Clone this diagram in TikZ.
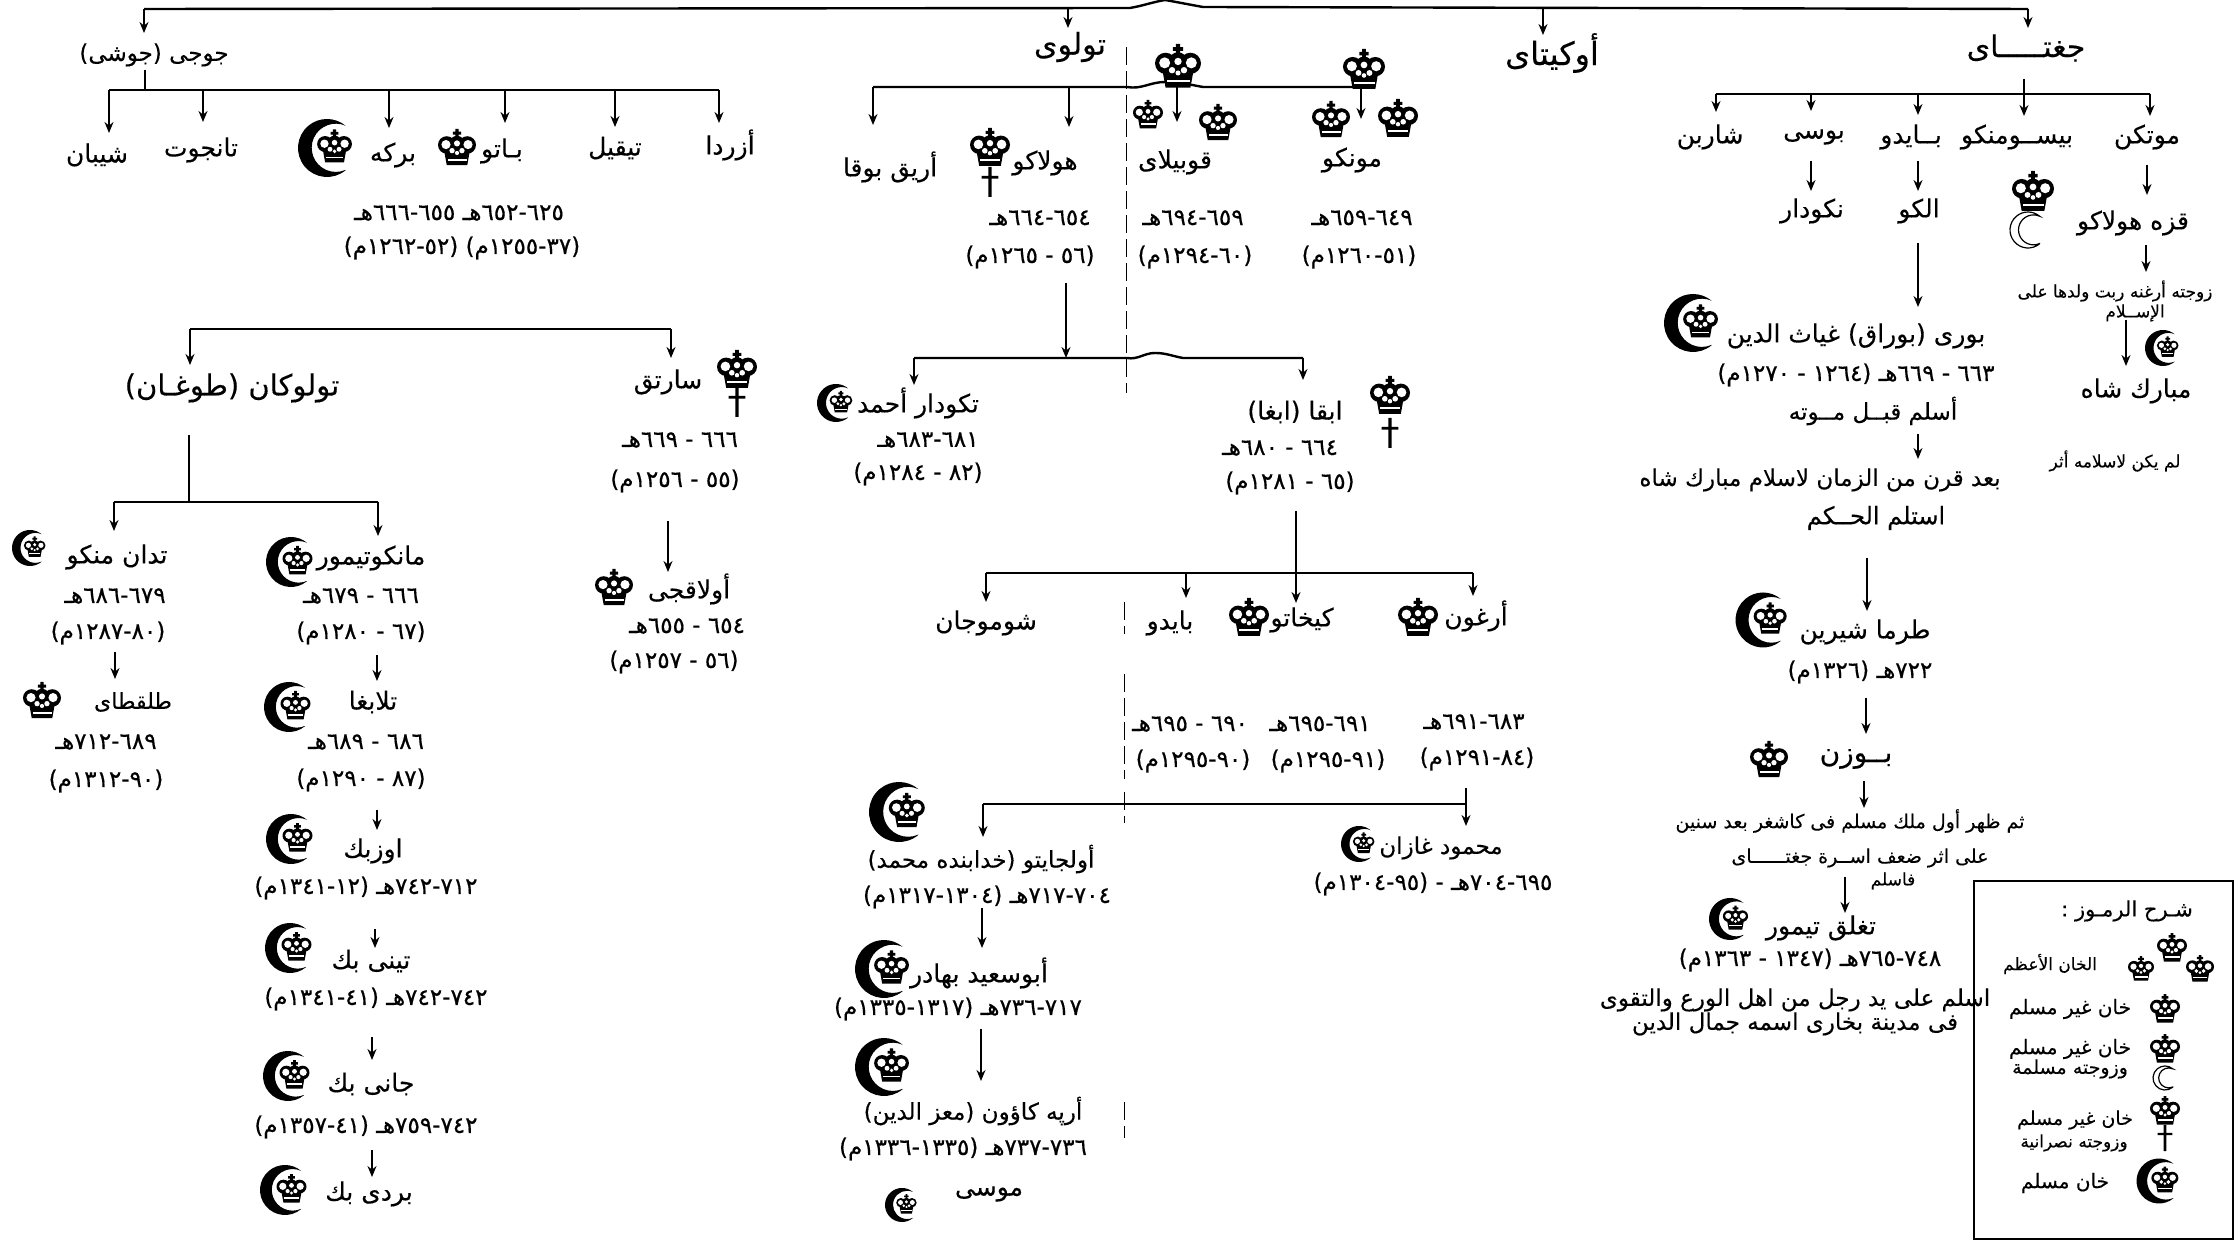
\documentclass[tikz,border=0pt]{standalone}
\usepackage{fontspec}
\usetikzlibrary{arrows.meta,calc}
\TeXXeTstate=1
\newfontfamily\arfont[Script=Arabic,FakeBold=0.25]{DejaVu Sans}
\newfontfamily\ardate[Script=Arabic,FakeBold=0.5]{DejaVu Sans}
\newcommand\Dg[1]{\beginL #1\endL{}}
\newcommand\hD[2]{\Dg{#1}-\Dg{#2}هـ}
\newcommand\mD[2]{(\Dg{#1}-\Dg{#2}م)}
\newcommand\lab[5][]{\node[namelbl,#1] (#2) at (#3,#4) {#5};}
\newcommand\dat[5][]{\node[datelbl,#1] (#2) at (#3,#4) {#5};}
\newcommand\sml[5][]{\node[smalllbl,#1] (#2) at (#3,#4) {#5};}
\newcommand\arw[4]{\coordinate (#1-a) at (#2,#3); \coordinate (#1-b) at (#2,#4); \draw[arrowline] (#1-a) -- (#1-b);}
\newcommand\barl[4]{\coordinate (#1-a) at (#2,#4); \coordinate (#1-b) at (#3,#4); \draw[barline] (#1-a) -- (#1-b);}
\newcommand\dsh[4]{\coordinate (#1-a) at (#2,#3); \coordinate (#1-b) at (#2,#4); \draw[dashline] (#1-a) -- (#1-b);}
\newcommand\crownat[3]{\pic at (#1,#2) {crownsym=#3};}
\newcommand\ccat[3]{\pic at (#1,#2) {moonsym=#3};\pic at ($(#1,#2)+(0.13*#3,-0.02*#3)$) {crownsym=0.6*#3};}
\newcommand\moonat[3]{\pic at (#1,#2) {hollowmoon=#3};}
\newcommand\crossat[3]{\pic at (#1,#2) {crosssym=#3};}
\tikzset{
  namelbl/.style={inner sep=0pt,font=\arfont\fontsize{12.5}{15}\selectfont},
  datelbl/.style={inner sep=0pt,font=\ardate\fontsize{11.5}{13}\selectfont},
  smalllbl/.style={inner sep=0pt,font=\arfont\fontsize{8.5}{11}\selectfont},
  fs/.style={font=\arfont\fontsize{#1}{#1}\selectfont},
  arrowline/.style={line width=.75pt,-{Stealth[length=5.5pt,width=4.5pt]}},
  barline/.style={line width=1.2pt},
  dashline/.style={line width=.45pt,dash pattern=on 9pt off 3pt},
  pics/crownsym/.style={code={
    \begin{scope}[scale=#1]
      \fill[black] (-.27,-.08) circle[radius=.23] (.27,-.08) circle[radius=.23] (0,-.12) circle[radius=.2];
      \fill[black] (-.36,-.05) -- (.36,-.05) -- (.27,.45) -- (-.27,.45) -- cycle;
      \fill[black] (-.045,-.5) rectangle (.045,-.25) (-.11,-.43) rectangle (.11,-.35);
      \fill[white] (-.29,-.09) circle[radius=.12] (.29,-.09) circle[radius=.12] (0,-.12) circle[radius=.08]
        (-.13,.07) circle[radius=.07] (.13,.07) circle[radius=.07] (0,.13) circle[radius=.055];
      \fill[white] (-.25,.28) rectangle (.25,.33);
    \end{scope}}},
  pics/moonsym/.style={code={
    \begin{scope}[scale=#1]
      \fill[black] (50:.5) arc[start angle=50,end angle=310,radius=.5] arc[start angle=294,end angle=66,radius=.416] -- cycle;
    \end{scope}}},
  pics/hollowmoon/.style={code={
    \begin{scope}[scale=#1]
      \draw[line width=.6pt] (50:.5) arc[start angle=50,end angle=310,radius=.5] arc[start angle=294,end angle=66,radius=.416] -- cycle;
    \end{scope}}},
  pics/crosssym/.style={code={
    \begin{scope}[scale=#1]
      \fill[black] (-.055,-.5) rectangle (.055,.5) (-.28,-.2) rectangle (.28,-.11);
    \end{scope}}},
}
\begin{document}
\begin{tikzpicture}[x=.5pt,y=-.5pt]
\useasboundingbox (0,0) rectangle (2239,1240);
% top bar
\coordinate (t1) at (144,9); \coordinate (tb1) at (1130,8); \coordinate (tbt) at (1165,0); \coordinate (tb2) at (1203,7); \coordinate (t2) at (2028,9);
\draw[barline] (t1) -- (tb1) to[out=10,in=190] (tbt) to[out=-10,in=170] (tb2) -- (t2);
\arw{a1}{144}{9}{33}\arw{a2}{1068}{7}{28}\arw{a3}{1543}{7}{35}\arw{a4}{2028}{9}{28}
\lab[fs=11.5]{jochi}{154}{55}{\beginR جوجى (جوشى)\endR}
\lab[fs=15]{tolui}{1070}{47}{\beginR تولوى\endR}
\lab[fs=16]{ogedei}{1552}{53}{\beginR أوكيتاى\endR}
\lab[fs=15]{chagatai}{2026}{48}{\beginR جغتـــــاى\endR}
% Jochi
\coordinate (j0) at (145,70); \coordinate (j1) at (145,90); \draw[arrowline,-] (j0) -- (j1);
\barl{jb}{109}{719}{90}
\arw{jc1}{109}{90}{133}\arw{jc2}{203}{90}{122}\arw{jc3}{389}{90}{128}\arw{jc4}{505}{90}{123}\arw{jc5}{615}{90}{127}\arw{jc6}{719}{90}{123}
\lab{shiban}{97}{155}{\beginR شيبان\endR}\lab{tanjut}{201}{150}{\beginR تانجوت\endR}\lab{berke}{393}{155}{\beginR بركه\endR}\lab{batu}{502}{151}{\beginR بـاتو\endR}\lab{tiqil}{615}{148}{\beginR تيقيل\endR}\lab{azrada}{730}{145}{\beginR أزردا\endR}
\ccat{327}{148}{58}\crownat{457}{148}{38}
\dat{bd1}{459}{213}{\beginR \hD{٦٢٥}{٦٥٢} \hD{٦٥٥}{٦٦٦}\endR}
\dat{bd2}{462}{248}{\beginR \mD{٣٧}{١٢٥٥} \mD{٥٢}{١٢٦٢}\endR}
% Batu children
\barl{sb}{190}{671}{329}
\arw{s1}{190}{329}{365}\arw{s2}{671}{329}{358}
\lab[fs=14.5]{tuqan}{232}{388}{\beginR تولوكان (طوغـان)\endR}\lab{sartaq}{668}{382}{\beginR سارتق\endR}
\crownat{737}{370}{40}\crossat{737}{402}{30}
\dat{sd1}{680}{440}{\beginR \Dg{٦٦٦} - \Dg{٦٦٩}هـ\endR}
\dat{sd2}{675}{481}{\beginR (\Dg{٥٥} - \Dg{١٢٥٦}م)\endR}
\arw{s3}{668}{521}{572}
\lab{ulaqchi}{689}{589}{\beginR أولاقجى\endR}\crownat{614}{588}{38}
\dat{ud1}{687}{626}{\beginR \Dg{٦٥٤} - \Dg{٦٥٥}هـ\endR}
\dat{ud2}{674}{662}{\beginR (\Dg{٥٦} - \Dg{١٢٥٧}م)\endR}
% Tuqan
\coordinate (q0) at (189,435); \coordinate (q1) at (189,502); \draw[arrowline,-] (q0) -- (q1);
\barl{qb}{114}{378}{502}
\arw{q2}{114}{502}{531}\arw{q3}{378}{502}{536}
\lab{tudan}{117}{557}{\beginR تدان منكو\endR}\ccat{30}{548}{36}
\dat{td1}{115}{596}{\beginR \hD{٦٧٩}{٦٨٦}\endR}\dat{td2}{108}{633}{\beginR \mD{٨٠}{١٢٨٧}\endR}
\arw{q4}{115}{652}{679}
\lab[fs=11]{tulqa}{133}{702}{\beginR طلقطاى\endR}\crownat{42}{701}{38}
\dat{tq1}{106}{742}{\beginR \hD{٦٨٩}{٧١٢}\endR}\dat{tq2}{106}{781}{\beginR \mD{٩٠}{١٣١٢}\endR}
\lab{mengu}{371}{558}{\beginR مانكوتيمور\endR}\ccat{291}{562}{50}
\dat{mt1}{361}{596}{\beginR \Dg{٦٦٦} - \Dg{٦٧٩}هـ\endR}\dat{mt2}{361}{633}{\beginR (\Dg{٦٧} - \Dg{١٢٨٠}م)\endR}
\arw{q5}{377}{655}{681}
\lab{tula}{373}{702}{\beginR تلابغا\endR}\ccat{289}{707}{50}
\dat{tl1}{366}{742}{\beginR \Dg{٦٨٦} - \Dg{٦٨٩}هـ\endR}\dat{tl2}{361}{780}{\beginR (\Dg{٨٧} - \Dg{١٢٩٠}م)\endR}
\arw{q6}{377}{810}{830}
\lab{uzbek}{373}{851}{\beginR اوزبك\endR}\ccat{291}{839}{50}
\dat{uz1}{366}{888}{\beginR \hD{٧١٢}{٧٤٢} \mD{١٢}{١٣٤١}\endR}
\arw{q7}{375}{929}{948}
\lab{tini}{371}{961}{\beginR تينى بك\endR}\ccat{290}{948}{50}
\dat{tn1}{376}{999}{\beginR \hD{٧٤٢}{٧٤٢} \mD{٤١}{١٣٤١}\endR}
\arw{q8}{372}{1037}{1060}
\lab{jani}{371}{1084}{\beginR جانى بك\endR}\ccat{288}{1076}{50}
\dat{jn1}{366}{1127}{\beginR \hD{٧٤٢}{٧٥٩} \mD{٤١}{١٣٥٧}\endR}
\arw{q9}{372}{1150}{1177}
\lab{berdi}{369}{1194}{\beginR بردى بك\endR}\ccat{285}{1190}{50}
% Tolui children
\coordinate (u1) at (873,87); \coordinate (u2) at (1127,87); \coordinate (u3) at (1165,82); \coordinate (u4) at (1203,87); \coordinate (u5) at (1361,87);
\draw[barline] (u1) -- (u2) to[out=-10,in=180] (u3) to[out=0,in=170] (u4) -- (u5);
\arw{uc1}{873}{87}{125}\arw{uc2}{1069}{87}{127}\arw{uc3}{1177}{85}{122}\arw{uc4}{1361}{87}{119}
\crownat{1178}{67}{46}\crownat{1364}{70}{42}\crownat{1148}{115}{30}\crownat{1218}{123}{38}\crownat{1331}{120}{38}\crownat{1398}{119}{40}
\lab{ariq}{890}{167}{\beginR أريق بوقا\endR}\lab{hulagu}{1045}{163}{\beginR هولاكو\endR}\crownat{990}{148}{40}\crossat{990}{182}{30}
\lab{qubilai}{1175}{162}{\beginR قوبيلاى\endR}\lab{mongke}{1352}{160}{\beginR مونكو\endR}
\dat{hd1}{1040}{218}{\beginR \Dg{٦٥٤}-\Dg{٦٦٤}هـ\endR}\dat{hd2}{1030}{257}{\beginR (\Dg{٥٦} - \Dg{١٢٦٥}م)\endR}
\dat{qd1}{1193}{218}{\beginR \hD{٦٥٩}{٦٩٤}\endR}\dat{qd2}{1195}{257}{\beginR \mD{٦٠}{١٢٩٤}\endR}
\dat{md1}{1362}{218}{\beginR \hD{٦٤٩}{٦٥٩}\endR}\dat{md2}{1359}{257}{\beginR \mD{٥١}{١٢٦٠}\endR}
\dsh{d1}{1126}{47}{393}
\arw{h1}{1066}{283}{358}
\coordinate (v1) at (914,358); \coordinate (v2) at (1127,358); \coordinate (v3) at (1155,353); \coordinate (v4) at (1183,358); \coordinate (v5) at (1303,358);
\draw[barline] (v1) -- (v2) to[out=-10,in=180] (v3) to[out=0,in=170] (v4) -- (v5);
\arw{v6}{914}{358}{385}\arw{v7}{1303}{358}{380}
\lab{tekudar}{918}{403}{\beginR تكودار أحمد\endR}\ccat{836}{403}{38}
\dat{tk1}{928}{440}{\beginR \hD{٦٨١}{٦٨٣}\endR}\dat{tk2}{918}{474}{\beginR (\Dg{٨٢} - \Dg{١٢٨٤}م)\endR}
\lab{abaqa}{1295}{412}{\beginR ابقا (ابغا)\endR}\crownat{1390}{396}{40}\crossat{1390}{433}{30}
\dat{ab1}{1280}{448}{\beginR \Dg{٦٦٤} - \Dg{٦٨٠}هـ\endR}\dat{ab2}{1290}{483}{\beginR (\Dg{٦٥} - \Dg{١٢٨١}م)\endR}
\arw{ab3}{1296}{511}{603}
\barl{wb}{986}{1473}{573}
\arw{w1}{986}{573}{602}\arw{w2}{1186}{573}{598}\arw{w3}{1473}{573}{596}
\lab{shumu}{986}{623}{\beginR شوموجان\endR}\lab{baidu}{1170}{623}{\beginR بايدو\endR}\lab{gaikhatu}{1302}{620}{\beginR كيخاتو\endR}\crownat{1249}{618}{40}\lab{arghun}{1476}{616}{\beginR أرغون\endR}\crownat{1418}{618}{40}
\dsh{d2}{1124}{602}{634}\dsh{d3}{1124}{674}{779}\dsh{d4}{1124}{792}{823}\dsh{d5}{1124}{1102}{1138}
\dat{bd3}{1190}{724}{\beginR \Dg{٦٩٠} - \Dg{٦٩٥}هـ\endR}\dat{bd4}{1193}{761}{\beginR \mD{٩٠}{١٢٩٥}\endR}
\dat{gk1}{1320}{724}{\beginR \hD{٦٩١}{٦٩٥}\endR}\dat{gk2}{1328}{761}{\beginR \mD{٩١}{١٢٩٥}\endR}
\dat{ar1}{1474}{722}{\beginR \hD{٦٨٣}{٦٩١}\endR}\dat{ar2}{1477}{759}{\beginR \mD{٨٤}{١٢٩١}\endR}
\barl{gb}{983}{1466}{804}
\arw{g1}{1466}{788}{826}\arw{g2}{983}{804}{837}
\ccat{899}{812}{60}
\lab[fs=11.5]{ulj}{981}{859}{\beginR أولجايتو (خدابنده محمد)\endR}
\dat{ul1}{987}{897}{\beginR \hD{٧٠٤}{٧١٧} (\Dg{١٣٠٤}-\Dg{١٣١٧}م)\endR}
\arw{g3}{982}{908}{948}
\ccat{884}{969}{58}\lab{abus}{979}{973}{\beginR أبوسعيد بهادر\endR}
\dat{as1}{958}{1009}{\beginR \hD{٧١٧}{٧٣٦} (\Dg{١٣١٧}-\Dg{١٣٣٥}م)\endR}
\arw{g4}{981}{1029}{1081}
\ccat{884}{1067}{58}\lab[fs=11.5]{arpa}{973}{1111}{\beginR أرپه كاؤون (معز الدين)\endR}
\dat{ap1}{963}{1149}{\beginR \hD{٧٣٦}{٧٣٧} (\Dg{١٣٣٥}-\Dg{١٣٣٦}م)\endR}
\lab{musa}{989}{1194}{\beginR موسى\endR}\ccat{902}{1205}{34}
\lab[fs=11.5]{ghazan}{1441}{848}{\beginR محمود غازان\endR}\ccat{1359}{844}{36}
\dat{gz1}{1433}{884}{\beginR \hD{٦٩٥}{٧٠٤} - \mD{٩٥}{١٣٠٤}\endR}
% Chagatai
\coordinate (c0) at (2024,79); \coordinate (c1) at (2024,116); \draw[arrowline] (c0) -- (c1);
\barl{cb}{1716}{2150}{94}
\arw{c2}{1716}{94}{112}\arw{c3}{1811}{94}{111}\arw{c4}{1918}{94}{115}\arw{c5}{2150}{94}{116}
\lab{sharbin}{1710}{137}{\beginR شاربن\endR}\lab{busi}{1814}{137}{\beginR بوسى\endR}\lab{baydu}{1911}{137}{\beginR بــايدو\endR}\lab{bisu}{2017}{137}{\beginR بيســومنكو\endR}\lab{mutukan}{2147}{137}{\beginR موتكن\endR}
\arw{c6}{1811}{161}{191}\arw{c7}{1918}{161}{191}\arw{c8}{2147}{165}{195}
\lab{nikudar}{1812}{211}{\beginR نكودار\endR}\lab{alku}{1919}{211}{\beginR الكو\endR}
\crownat{2033}{192}{42}\moonat{2028}{230}{36}
\lab{qara}{2133}{223}{\beginR قزه هولاكو\endR}
\arw{c9}{2146}{245}{272}
\sml{wife1}{2115}{291}{\beginR زوجته أرغنه ربت ولدها على\endR}\sml{wife2}{2135}{313}{\beginR الإســلام\endR}
\arw{c10}{2126}{320}{366}
\ccat{2163}{348}{36}
\lab{mubarak}{2136}{391}{\beginR مبارك شاه\endR}
\sml{notsure}{2115}{461}{\beginR لم يكن لاسلامه أثر\endR}
\arw{c11}{1918}{243}{307}
\ccat{1693}{323}{58}
\lab{buri}{1856}{336}{\beginR بورى (بوراق) غياث الدين\endR}
\dat{br1}{1856}{375}{\beginR \Dg{٦٦٣} - \Dg{٦٦٩}هـ (\Dg{١٢٦٤} - \Dg{١٢٧٠}م)\endR}
\lab[fs=11.5]{br2}{1873}{411}{\beginR أسلم قبــل مــوته\endR}
\arw{c12}{1918}{434}{459}
\sml[fs=11.5]{cent}{1820}{480}{\beginR بعد قرن من الزمان لاسلام مبارك شاه\endR}
\lab[fs=12]{cent2}{1876}{518}{\beginR استلم الحــكم\endR}
\arw{c13}{1867}{558}{611}
\ccat{1763}{620}{55}\lab{tarma}{1865}{632}{\beginR طرما شيرين\endR}
\dat{tr1}{1860}{672}{\beginR \Dg{٧٢٢}هـ (\Dg{١٣٢٦}م)\endR}
\arw{c14}{1866}{698}{734}
\lab[fs=14]{buzan}{1856}{759}{\beginR بــوزن\endR}\crownat{1769}{760}{38}
\arw{c15}{1864}{781}{808}
\sml[fs=9.5]{ish1}{1850}{821}{\beginR ثم ظهر أول ملك مسلم فى كاشغر بعد سنين\endR}
\sml[fs=9.5]{ish2}{1860}{858}{\beginR على اثر ضعف اســرة جغتــــــاى\endR}
\sml{ish3}{1893}{881}{\beginR فاسلم\endR}
\arw{c16}{1845}{877}{913}
\lab{tughlq}{1821}{928}{\beginR تغلق تيمور\endR}\ccat{1730}{919}{42}
\dat{tg1}{1810}{960}{\beginR \hD{٧٤٨}{٧٦٥} (\Dg{١٣٤٧} - \Dg{١٣٦٣}م)\endR}
\sml[fs=11.5]{tg2}{1795}{1000}{\beginR اسلم على يد رجل من اهل الورع والتقوى\endR}
\sml[fs=11.5]{tg3}{1795}{1024}{\beginR فى مدينة بخارى اسمه جمال الدين\endR}
% Legend
\coordinate (lg1) at (1974,881); \coordinate (lg2) at (2233,1239); \draw[line width=.8pt] (lg1) rectangle (lg2);
\sml[fs=10.5]{lgt}{2127}{911}{\beginR شـرح الرمـوز :\endR}
\sml{lg3}{2050}{964}{\beginR الخان الأعظم\endR}\crownat{2141}{969}{26}\crownat{2172}{948}{30}\crownat{2200}{969}{28}
\sml[fs=10]{lg4}{2070}{1009}{\beginR خان غير مسلم\endR}\crownat{2165}{1009}{30}
\sml[fs=10]{lg5}{2070}{1049}{\beginR خان غير مسلم\endR}\sml[fs=9.5]{lg6}{2070}{1069}{\beginR وزوجته مسلمة\endR}\crownat{2165}{1049}{30}\moonat{2165}{1078}{24}
\sml[fs=9.5]{lg7}{2075}{1120}{\beginR خان غير مسلم\endR}\sml{lg8}{2074}{1143}{\beginR وزوجته نصرانية\endR}\crownat{2165}{1111}{30}\crossat{2165}{1138}{26}
\sml[fs=10]{lg9}{2065}{1183}{\beginR خان مسلم\endR}\ccat{2159}{1181}{45}
\end{tikzpicture}
\end{document}
